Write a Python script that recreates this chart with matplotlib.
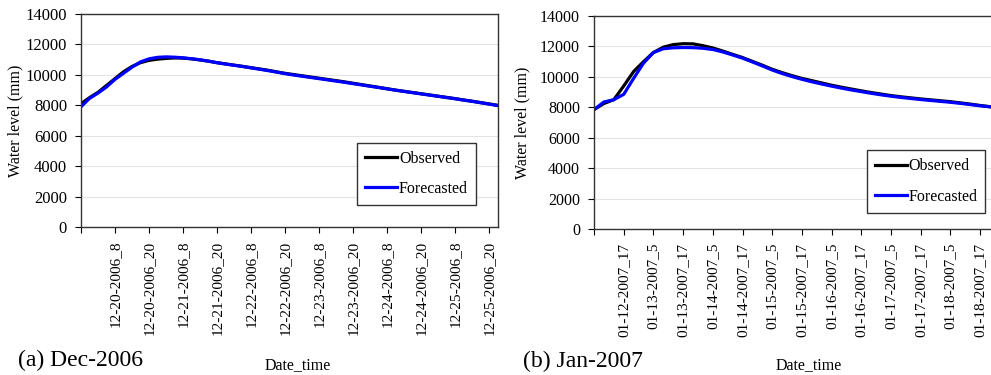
import matplotlib
matplotlib.use("Agg")
import matplotlib.pyplot as plt
import numpy as np

plt.rcParams['font.family'] = ['Liberation Serif', 'DejaVu Serif']

# (a) Dec-2006, hours after 12-19-2006_20, every 3 h
dec_hours = list(range(0, 148, 3))
dec_obs = [8100, 8500, 8850, 9300, 9750, 10200, 10550, 10800, 10950, 11030,
           11080, 11110, 11100, 11050, 10980, 10900, 10800, 10720, 10640, 10560,
           10470, 10390, 10300, 10200, 10100, 10020, 9940, 9860, 9780, 9700,
           9620, 9540, 9450, 9360, 9270, 9180, 9090, 9000, 8920, 8840,
           8760, 8680, 8600, 8520, 8440, 8350, 8270, 8180, 8090, 8000]
dec_fc = [7900, 8450, 8800, 9200, 9700, 10100, 10500, 10850, 11050, 11150,
          11180, 11160, 11120, 11060, 10990, 10900, 10800, 10710, 10630, 10550,
          10460, 10370, 10280, 10180, 10080, 9990, 9910, 9830, 9750, 9670,
          9590, 9510, 9420, 9340, 9250, 9170, 9080, 8990, 8910, 8830,
          8750, 8670, 8590, 8510, 8430, 8340, 8260, 8170, 8080, 7980]
dec_ticks = ["", "12-20-2006_8", "12-20-2006_20", "12-21-2006_8", "12-21-2006_20",
             "12-22-2006_8", "12-22-2006_20", "12-23-2006_8", "12-23-2006_20",
             "12-24-2006_8", "12-24-2006_20", "12-25-2006_8", "12-25-2006_20"]

# (b) Jan-2007, hours after 01-12-2007_5, every 4 h
jan_hours = list(range(0, 161, 4))
jan_obs = [7850, 8250, 8500, 9400, 10350, 11000, 11600, 11950, 12120, 12180,
           12170, 12050, 11900, 11700, 11480, 11270, 11020, 10770, 10500, 10280,
           10080, 9900, 9750, 9600, 9450, 9320, 9200, 9080, 8970, 8870,
           8770, 8690, 8620, 8550, 8490, 8430, 8370, 8290, 8210, 8120, 8040]
jan_fc = [7850, 8350, 8500, 8850, 9900, 10900, 11600, 11850, 11910, 11930,
          11920, 11880, 11800, 11640, 11440, 11230, 10980, 10720, 10450, 10220,
          10020, 9840, 9680, 9530, 9390, 9260, 9140, 9030, 8920, 8820,
          8730, 8650, 8580, 8510, 8450, 8390, 8330, 8260, 8180, 8100, 8030]
jan_ticks = ["", "01-12-2007_17", "01-13-2007_5", "01-13-2007_17", "01-14-2007_5",
             "01-14-2007_17", "01-15-2007_5", "01-15-2007_17", "01-16-2007_5",
             "01-16-2007_17", "01-17-2007_5", "01-17-2007_17", "01-18-2007_5",
             "01-18-2007_17"]

fig = plt.figure(figsize=(9.91, 3.75), dpi=100)
ax1 = fig.add_axes([0.0817, 0.3947, 0.4208, 0.568])
ax2 = fig.add_axes([0.5994, 0.3893, 0.4006, 0.568])


def style(ax, hours, obs, fc, labels, xmax, leg_center, ysize, ylab_x):
    ax.plot(hours, obs, color="black", lw=2.3, label="Observed")
    ax.plot(hours, fc, color="#0000ff", lw=2.3, label="Forecasted")
    ax.set_xlim(0, xmax)
    ax.set_ylim(0, 14000)
    ax.set_yticks(range(0, 14001, 2000))
    ax.set_xticks([12 * i for i in range(len(labels))])
    ax.set_xticklabels(labels, rotation=90, fontsize=11)
    ax.tick_params(axis="y", labelsize=ysize, direction="out", length=4, pad=6)
    ax.tick_params(axis="x", direction="out", length=4, pad=6)
    ax.grid(axis="y", color="#e4e4e4", lw=0.8)
    ax.set_axisbelow(True)
    for s in ax.spines.values():
        s.set_color("#333333")
        s.set_linewidth(1.0)
    ax.set_ylabel("Water level (mm)", fontsize=11.5)
    ax.yaxis.set_label_coords(ylab_x, 0.5)
    leg = ax.legend(loc="center", bbox_to_anchor=leg_center, fontsize=11.5,
                    handlelength=2.0, handletextpad=0.1, labelspacing=0.9,
                    borderpad=0.5, fancybox=False, framealpha=1)
    leg.get_frame().set_edgecolor("#333333")
    leg.get_frame().set_linewidth(1.0)


style(ax1, dec_hours, dec_obs, dec_fc, dec_ticks, 147.2, (0.805, 0.25), 12, -0.137)
style(ax2, jan_hours, jan_obs, jan_fc, jan_ticks, 160.4, (0.836, 0.223), 11.5, -0.159)
ax2.spines["right"].set_visible(False)

fig.text(298 / 991, 1 - 365 / 375, "Date_time", ha="center", va="center", fontsize=11.5)
fig.text(809 / 991, 1 - 365 / 375, "Date_time", ha="center", va="center", fontsize=11.5)
fig.text(18 / 991, 1 - 360 / 375, "(a) Dec-2006", ha="left", va="center", fontsize=17)
fig.text(523 / 991, 1 - 361 / 375, "(b) Jan-2007", ha="left", va="center", fontsize=17)

fig.savefig("out.png", dpi=100)
